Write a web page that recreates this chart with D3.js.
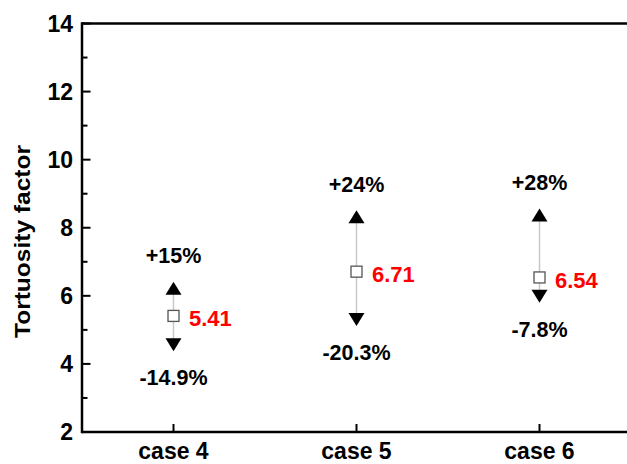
<!DOCTYPE html>
<html><head><meta charset="utf-8">
<script src="https://cdn.jsdelivr.net/npm/d3@7"></script>
<style>body{margin:0;background:#fff}svg{display:block;font-family:Arial,"Liberation Sans",sans-serif}</style>
</head><body><svg id="c" width="627" height="464"></svg>
<script>
const categories = ["case 4","case 5","case 6"];
const baseValues = [5.41, 6.71, 6.54];
const upPct = [15, 24, 28];
const downPct = [-14.9, -20.3, -7.8];
const upLabels = ["+15%","+24%","+28%"];
const downLabels = ["-14.9%","-20.3%","-7.8%"];
const yTicks = [2,4,6,8,10,12,14];
const yMinorTicks = [3,5,7,9,11,13];

const svg = d3.select("#c");
const L = 82, T = 23.5, B = 432;
const x = d3.scaleLinear().domain([0.5, 3.5]).range([L, L + 3*183]);
const y = d3.scaleLinear().domain([2, 14]).range([B, T]);

// frame
svg.append("line").attr("x1",L).attr("x2",627).attr("y1",T).attr("y2",T).attr("stroke","#000").attr("stroke-width",2.5);
svg.append("line").attr("x1",L).attr("x2",627).attr("y1",B).attr("y2",B).attr("stroke","#000").attr("stroke-width",2.5);
svg.append("line").attr("x1",L).attr("x2",L).attr("y1",T-1.2).attr("y2",B+1.2).attr("stroke","#000").attr("stroke-width",2.5);

// y ticks
svg.selectAll(".yt").data(yTicks).enter().append("line")
  .attr("x1",L).attr("x2",L+8.5).attr("y1",d=>y(d)).attr("y2",d=>y(d)).attr("stroke","#000").attr("stroke-width",2);
svg.selectAll(".ym").data(yMinorTicks).enter().append("line")
  .attr("x1",L).attr("x2",L+5.5).attr("y1",d=>y(d)).attr("y2",d=>y(d)).attr("stroke","#000").attr("stroke-width",2);
svg.selectAll(".yl").data(yTicks).enter().append("text")
  .attr("x",L-9).attr("y",d=>y(d)+8.3).attr("text-anchor","end")
  .attr("font-size",23).attr("font-weight","bold").text(d=>d);

// x ticks
svg.selectAll(".xt").data(categories).enter().append("line")
  .attr("x1",(d,i)=>x(i+1)).attr("x2",(d,i)=>x(i+1)).attr("y1",B).attr("y2",B-8).attr("stroke","#000").attr("stroke-width",2);
svg.selectAll(".xl").data(categories).enter().append("text")
  .attr("x",(d,i)=>x(i+1)).attr("y",459).attr("text-anchor","middle")
  .attr("font-size",23).attr("font-weight","bold").text(d=>d);

// y title
svg.append("text").attr("transform",`translate(30,241.5) rotate(-90)`)
  .attr("text-anchor","middle").attr("font-size",22).attr("font-weight","bold")
  .attr("textLength",193).attr("lengthAdjust","spacingAndGlyphs").text("Tortuosity factor");

const triType = {draw(ctx){ ctx.moveTo(0,-6.5); ctx.lineTo(8,6.5); ctx.lineTo(-8,6.5); ctx.closePath(); }};
const tri = d3.symbol().type(triType);
categories.forEach((c,i)=>{
  const cx = x(i+1);
  const v = baseValues[i];
  const up = v*(1+upPct[i]/100), dn = v*(1+downPct[i]/100);
  svg.append("line").attr("x1",cx).attr("x2",cx).attr("y1",y(up)).attr("y2",y(dn)).attr("stroke","#c8c8c8").attr("stroke-width",1.5);
  svg.append("path").attr("d",tri).attr("transform",`translate(${cx},${y(up)})`).attr("fill","#000");
  svg.append("path").attr("d",tri).attr("transform",`translate(${cx},${y(dn)+1.5}) rotate(180)`).attr("fill","#000");
  svg.append("rect").attr("x",cx-5.5).attr("y",y(v)-5.5).attr("width",11).attr("height",11)
    .attr("fill","#fff").attr("stroke","#555").attr("stroke-width",1.3);
  svg.append("text").attr("x",cx+15.5).attr("y",y(v)+10.5).attr("fill","#ff0000")
    .attr("font-size",22).attr("font-weight","bold").text(v.toFixed(2));
  svg.append("text").attr("x",cx).attr("y",y(up)-25).attr("text-anchor","middle")
    .attr("font-size",21.5).attr("font-weight","bold").text(upLabels[i]);
  svg.append("text").attr("x",cx).attr("y",y(dn)+42).attr("text-anchor","middle")
    .attr("font-size",21.5).attr("font-weight","bold").text(downLabels[i]);
});
</script></body></html>
